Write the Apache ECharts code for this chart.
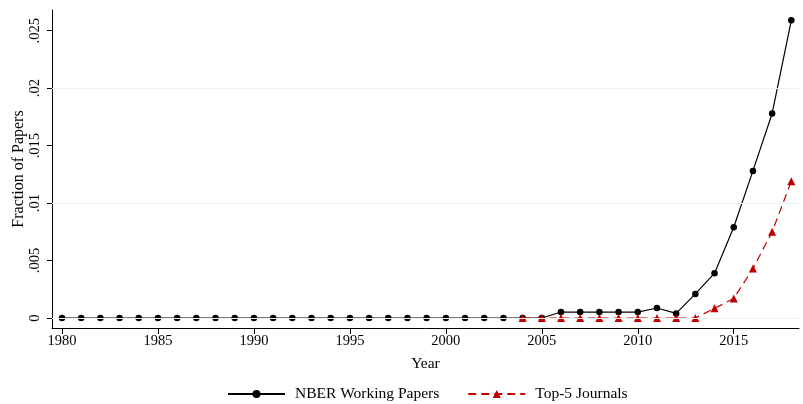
<!DOCTYPE html>
<html><head><meta charset="utf-8">
<script src="https://cdn.jsdelivr.net/npm/echarts@6/dist/echarts.min.js"></script>
<style>html,body{margin:0;padding:0;background:#fff}#c{width:803px;height:404px}</style>
</head><body><div id="c"></div>
<script>
const years = [];
for (let y = 1980; y <= 2018; y++) years.push(y);
const nberValues = [0,0,0,0,0,0,0,0,0,0,0,0,0,0,0,0,0,0,0,0,0,0,0,0,0,0,
  0.00052,0.00052,0.00052,0.00052,0.00052,0.00087,0.0004,0.0021,0.0039,0.0079,0.0128,0.0178,0.0259];
const top5Years = [2004,2005,2006,2007,2008,2009,2010,2011,2012,2013,2014,2015,2016,2017,2018];
const top5Values = [0,0,0,0,0,0,0,0,0,0,0.00084,0.0017,0.0043,0.0075,0.0119];
const xTicks = [1980,1985,1990,1995,2000,2005,2010,2015];
const yTicks = [0,0.005,0.01,0.015,0.02,0.025];
const yLabels = ['0','.005','.01','.015','.02','.025'];

const font = 'Liberation Serif';
const chart = echarts.init(document.getElementById('c'), null, {renderer:'canvas'});
chart.setOption({
  animation:false,
  backgroundColor:'#fff',
  textStyle:{fontFamily:font},
  grid:{left:52,right:4,top:10,bottom:76,containLabel:false,outerBoundsMode:'none'},
  xAxis:{type:'value',min:1979.48,max:2018.4,
    name:'Year',nameLocation:'middle',nameGap:28,nameMoveOverlap:false,
    nameTextStyle:{fontFamily:font,fontSize:15.5,color:'#000'},
    axisLine:{show:true,onZero:false,lineStyle:{color:'#000',width:1}},
    axisTick:{show:true,length:6,customValues:xTicks,lineStyle:{color:'#000'}},
    axisLabel:{customValues:xTicks,fontFamily:font,fontSize:14.5,color:'#000',margin:6,formatter:v=>String(v)},
    splitLine:{show:false}},
  yAxis:{type:'value',min:-0.000868,max:0.0268,
    name:'Fraction of Papers',nameLocation:'middle',nameGap:25,nameRotate:90,nameMoveOverlap:false,
    nameTextStyle:{fontFamily:font,fontSize:16,color:'#000'},
    axisLine:{show:true,onZero:false,lineStyle:{color:'#000',width:1}},
    axisTick:{show:true,length:5,customValues:yTicks,lineStyle:{color:'#000'}},
    axisLabel:{customValues:yTicks,rotate:90,fontFamily:font,fontSize:14.5,color:'#000',margin:9,
      formatter:v=>{const i=yTicks.findIndex(t=>Math.abs(t-v)<1e-9);return i>=0?yLabels[i]:'';}},
    splitLine:{show:false}},
  legend:{top:381,left:222,itemWidth:57,itemHeight:10,itemGap:28,
    textStyle:{fontFamily:font,fontSize:15.5,color:'#000',padding:[0,0,0,5]},
    data:['NBER Working Papers','Top-5 Journals']},
  series:[
    {type:'line',name:'grid',data:[],silent:true,z:1,
     markLine:{silent:true,symbol:'none',label:{show:false},
       lineStyle:{color:'#eaf1f3',width:1,type:'solid'},
       data:yTicks.map(v=>({yAxis:v}))}},
    {type:'line',name:'NBER Working Papers',z:3,
     data:years.map((y,i)=>[y,nberValues[i]]),
     symbol:'circle',symbolSize:6.5,
     itemStyle:{color:'#000'},lineStyle:{color:'#000',width:1.2}},
    {type:'line',name:'Top-5 Journals',z:4,
     data:top5Years.map((y,i)=>[y,top5Values[i]]),
     symbol:'triangle',symbolSize:8,
     itemStyle:{color:'#c00000'},lineStyle:{color:'#c00000',width:1.2,type:[8,5]}}
  ]
});
</script></body></html>
